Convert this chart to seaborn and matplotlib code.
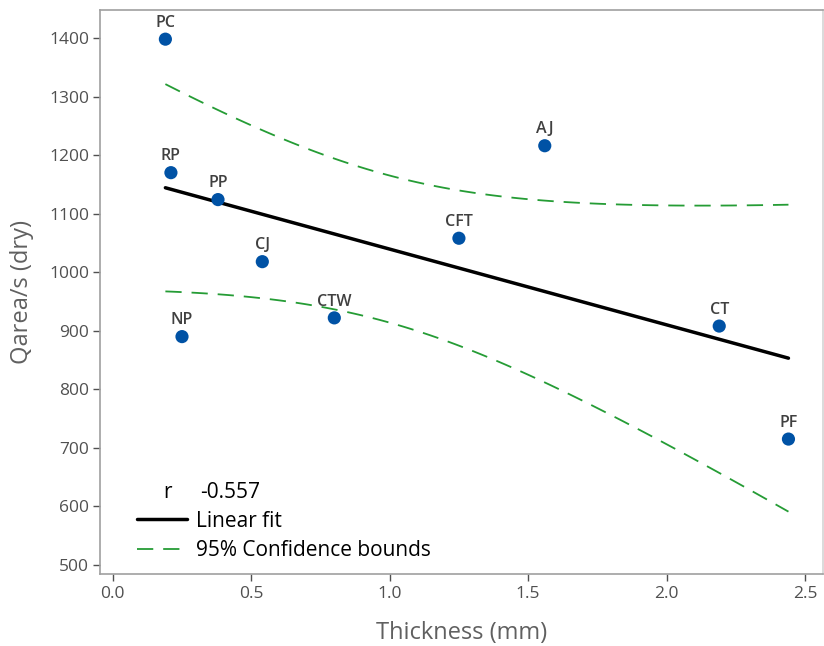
import numpy as np
import pandas as pd
import matplotlib
matplotlib.use("Agg")
import matplotlib.pyplot as plt
from matplotlib.lines import Line2D
import seaborn as sns

# --- DATA ---
labels = ['PC', 'RP', 'PP', 'CJ', 'NP', 'CTW', 'CFT', 'AJ', 'CT', 'PF']
thickness = [0.19, 0.21, 0.38, 0.54, 0.25, 0.80, 1.25, 1.56, 2.19, 2.44]
qarea = [1398, 1170, 1124, 1018, 890, 922, 1058, 1216, 908, 715]
r_text = "-0.557"
x_ticks = [0.0, 0.5, 1.0, 1.5, 2.0, 2.5]
y_ticks = [500, 600, 700, 800, 900, 1000, 1100, 1200, 1300, 1400]

df = pd.DataFrame({'label': labels, 'x': thickness, 'y': qarea})

# --- FIT + 95% CI of the mean (t 0.975, df=8) ---
slope, icpt = np.polyfit(df['x'], df['y'], 1)
n = len(df)
resid = df['y'] - (icpt + slope * df['x'])
s = np.sqrt((resid ** 2).sum() / (n - 2))
sxx = ((df['x'] - df['x'].mean()) ** 2).sum()
t_crit = 2.306
xs = np.linspace(df['x'].min(), df['x'].max(), 100)
yfit = icpt + slope * xs
half = t_crit * s * np.sqrt(1 / n + (xs - df['x'].mean()) ** 2 / sxx)
fit_df = pd.DataFrame({'x': xs, 'fit': yfit, 'lo': yfit - half, 'hi': yfit + half})

sns.set_style("white")
plt.rcParams['font.family'] = ['Open Sans', 'DejaVu Sans']

fig = plt.figure(figsize=(8.24, 6.46), dpi=100)
ax = fig.add_axes([0.1214, 0.1115, 0.8768, 0.873])

green = '#259c35'
dash = (0, (9, 5.5))
sns.lineplot(data=fit_df, x='x', y='fit', ax=ax, color='black', lw=2.5)
sns.lineplot(data=fit_df, x='x', y='hi', ax=ax, color=green, lw=1.3, linestyle=dash)
sns.lineplot(data=fit_df, x='x', y='lo', ax=ax, color=green, lw=1.3, linestyle=dash)
sns.scatterplot(data=df, x='x', y='y', ax=ax, color='#0052a5', s=90,
                edgecolor='none', zorder=5)

for lab, xv, yv in zip(labels, thickness, qarea):
    ax.annotate(lab, (xv, yv), xytext=(0, 6), textcoords='offset points',
                ha='center', va='bottom', fontsize=11.5, fontweight='semibold',
                color='#404040')

ax.set_xlim(-0.046, 2.563)
ax.set_ylim(484.6, 1447.8)
ax.set_xticks(x_ticks)
ax.set_xticklabels([f"{v:.1f}" for v in x_ticks])
ax.set_yticks(y_ticks)

ax.set_xlabel('Thickness (mm)', fontsize=17, color='#606060', labelpad=13)
ax.set_ylabel('Qarea/s (dry)', fontsize=17, color='#606060', labelpad=11)
ax.tick_params(axis='both', colors='#505050', labelsize=12.5, length=5,
               width=1, direction='out', bottom=True, left=True)
ax.tick_params(axis='x', pad=4)
ax.tick_params(axis='y', pad=3)
for sp in ax.spines.values():
    sp.set_color('#a0a0a0')
    sp.set_linewidth(1.2)
ax.spines['right'].set_color('#d4d4d4')

# legend
handles = [Line2D([], [], color='black', lw=2.5),
           Line2D([], [], color=green, lw=1.3, linestyle=dash)]
leg = ax.legend(handles, ['Linear fit', '95% Confidence bounds'], loc='lower left',
                bbox_to_anchor=(0.051, 0.023), frameon=False, fontsize=15,
                handlelength=2.4, handletextpad=0.45, labelspacing=0.4,
                borderpad=0, borderaxespad=0, labelcolor='black')
ax.text(0.093, 0.145, 'r', transform=ax.transAxes, fontsize=15, ha='center',
        va='center', color='black')
ax.text(0.138, 0.145, r_text, transform=ax.transAxes, fontsize=15, ha='left',
        va='center', color='black')

fig.savefig("out.png", dpi=100)
